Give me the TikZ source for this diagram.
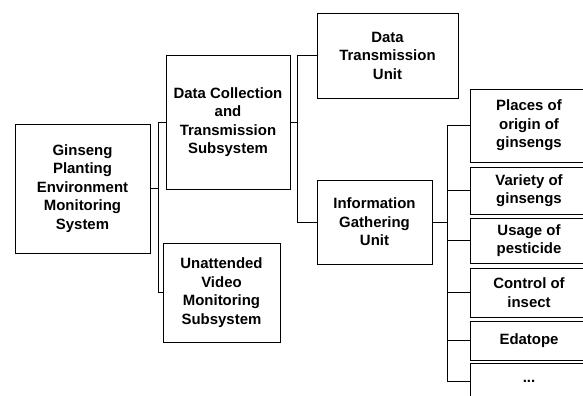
\documentclass[tikz,border=0pt]{standalone}
\usepackage{fontspec}
\setmainfont{Liberation Sans}
\usetikzlibrary{shadows}
\newcommand{\px}{*0.75pt}
\newcommand{\picw}{583}
\newcommand{\pich}{396}
\newcommand{\leafx}{529}
\newcommand{\leafw}{118}
\begin{document}
\begin{tikzpicture}[x=0.75pt,y=-0.75pt,
    font=\bfseries\fontsize{11.2}{13.9}\selectfont,
    unitbox/.style={draw,fill=white,line width=0.6pt,align=center,
      inner sep=0pt,
      drop shadow={shadow xshift=0.9pt,shadow yshift=-0.9pt,
        fill=gray,opacity=1}},
    wire/.style={line width=0.6pt}]
    \useasboundingbox (0,0) rectangle (\picw,\pich);
    \clip (0,0) rectangle (\picw,\pich);
    % root part
    \node[unitbox,minimum width=135\px,minimum height=129\px] (root)
      at (82.5,188.5) {Ginseng\\Planting\\Environment\\Monitoring\\System};
    % subsystem part
    \node[unitbox,minimum width=124\px,minimum height=134\px] (collect)
      at (228,122) {Data Collection\\and\\Transmission\\Subsystem};
    \node[unitbox,minimum width=117\px,minimum height=99\px] (video)
      at (221.5,292.5) {Unattended\\Video\\Monitoring\\Subsystem};
    % unit part
    \node[unitbox,minimum width=141\px,minimum height=85\px] (transmit)
      at (387.5,55.5) {Data\\Transmission\\Unit};
    \node[unitbox,minimum width=115\px,minimum height=84\px] (gather)
      at (374.5,222) {Information\\Gathering\\Unit};
    % item part
    \node[unitbox,minimum width=\leafw\px,minimum height=73\px] (origin)
      at (\leafx,125.5) {Places of\\origin of\\ginsengs};
    \node[unitbox,minimum width=\leafw\px,minimum height=47\px] (variety)
      at (\leafx,190.5) {Variety of\\ginsengs};
    \node[unitbox,minimum width=\leafw\px,minimum height=45\px] (pesticide)
      at (\leafx,240.5) {Usage of\\pesticide};
    \node[unitbox,minimum width=\leafw\px,minimum height=49\px] (insect)
      at (\leafx,292.5) {Control of\\insect};
    \node[unitbox,minimum width=\leafw\px,minimum height=39\px] (edatope)
      at (\leafx,340.5) {Edatope};
    \node[unitbox,minimum width=\leafw\px,minimum height=36\px] (more)
      at (\leafx,381) {...};
    % root wires
    \draw[wire] (root.east) -- ++(8,0) coordinate (rootbus) |- (collect.west);
    \draw[wire] (rootbus) |- (video.west);
    % subsystem wires
    \draw[wire] (collect.east) -- ++(7,0) coordinate (collectbus)
      |- (transmit.west);
    \draw[wire] (collectbus) |- (gather.west);
    % unit wires
    \draw[wire] (gather.east) -- ++(15,0) coordinate (gatherbus)
      |- (origin.west);
    \draw[wire] (gatherbus) |- (variety.west);
    \draw[wire] (gatherbus) |- (pesticide.west);
    \draw[wire] (gatherbus) |- (insect.west);
    \draw[wire] (gatherbus) |- (edatope.west);
    \draw[wire] (gatherbus) |- (more.west);
  \end{tikzpicture}
\end{document}
